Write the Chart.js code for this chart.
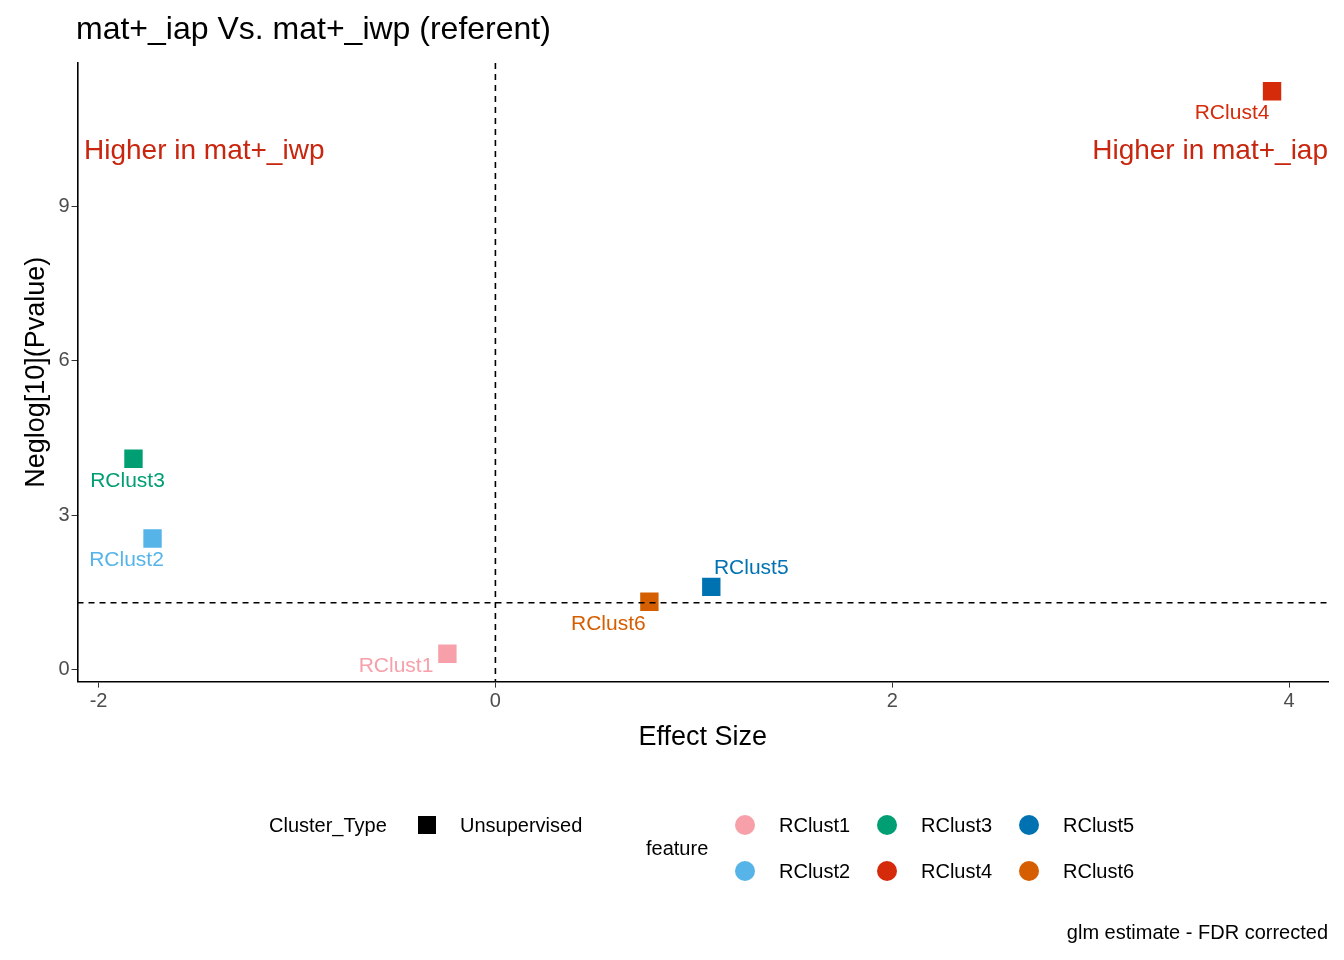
<!DOCTYPE html>
<html><head><meta charset="utf-8">
<script src="https://cdn.jsdelivr.net/npm/chart.js@4"></script>
<style>html,body{margin:0;padding:0;background:#fff}#wrap{width:1344px;height:960px}</style>
</head><body><div id="wrap"><canvas id="c"></canvas></div>
<script>
const features = ["RClust1","RClust2","RClust3","RClust4","RClust5","RClust6"];
const effectSize = [-0.242, -1.728, -1.824, 3.914, 1.088, 0.776];
const negLogP = [0.31, 2.55, 4.10, 11.24, 1.61, 1.32];
const colors = ["#F8A0AA","#56B4E9","#009E73","#D52B0B","#0072B2","#D55E00"];
const xTicks = [-2, 0, 2, 4];
const yTicks = [0, 3, 6, 9];
const pThreshold = 1.301;
const labelPos = [[-14,12,'right'],[-26,22,'center'],[-6,23,'center'],[-40,22,'center'],[40,-19,'center'],[-41,22,'center']];
const F = '"Liberation Sans", Arial, sans-serif';

const plugin = {
  id:'annot',
  afterDraw(chart){
    const ctx = chart.ctx, xs = chart.scales.x, ys = chart.scales.y, a = chart.chartArea;
    ctx.save();
    ctx.strokeStyle = '#000'; ctx.lineWidth = 1.6; ctx.setLineDash([6,5]);
    const x0 = xs.getPixelForValue(0), yh = ys.getPixelForValue(pThreshold);
    ctx.beginPath(); ctx.moveTo(x0, a.top); ctx.lineTo(x0, a.bottom); ctx.stroke();
    ctx.beginPath(); ctx.moveTo(a.left, yh); ctx.lineTo(a.right, yh); ctx.stroke();
    ctx.setLineDash([]);
    ctx.font = '21px '+F; ctx.textBaseline='middle';
    features.forEach((f,i)=>{
      const px = xs.getPixelForValue(effectSize[i]), py = ys.getPixelForValue(negLogP[i]);
      const [dx,dy,al] = labelPos[i];
      ctx.fillStyle = colors[i]; ctx.textAlign = al;
      ctx.fillText(f, px+dx, py+dy);
    });
    ctx.font = '28px '+F; ctx.fillStyle = '#C8260E';
    ctx.textAlign='left'; ctx.fillText('Higher in mat+_iwp', 84, 151);
    ctx.textAlign='right'; ctx.fillText('Higher in mat+_iap', 1328, 151);
    ctx.fillStyle='#000'; ctx.font='32px '+F; ctx.textAlign='left';
    ctx.fillText('mat+_iap Vs. mat+_iwp (referent)', 76, 30);
    ctx.font='20px '+F; ctx.fillStyle='#000';
    ctx.fillText('Cluster_Type', 269, 826);
    ctx.fillRect(418, 816, 18, 18);
    ctx.fillText('Unsupervised', 460, 826);
    ctx.fillText('feature', 646, 849);
    const lx=[745,887,1029], ly=[825,871];
    features.forEach((f,i)=>{
      const cx = lx[Math.floor(i/2)], cy = ly[i%2];
      ctx.fillStyle=colors[i]; ctx.beginPath(); ctx.arc(cx,cy,10,0,Math.PI*2); ctx.fill();
      ctx.fillStyle='#000'; ctx.fillText(f, cx+34, cy+1);
    });
    ctx.textAlign='right'; ctx.fillText('glm estimate - FDR corrected', 1328, 933);
    ctx.restore();
  }
};

new Chart(document.getElementById('c'), {
  type:'scatter',
  data:{datasets:[{
    data: effectSize.map((x,i)=>({x, y:negLogP[i]})),
    pointStyle:'rect', pointRadius:13, pointHoverRadius:13,
    backgroundColor: colors, borderColor: colors, borderWidth:0
  }]},
  options:{
    responsive:true, maintainAspectRatio:false, animation:false,
    layout:{padding:{top:63,right:16,bottom:202,left:16}},
    plugins:{legend:{display:false},tooltip:{enabled:false}},
    scales:{
      x:{type:'linear',min:-2.106,max:4.196,
        afterBuildTicks(s){s.ticks=xTicks.map(v=>({value:v}));},
        grid:{drawOnChartArea:false,color:'#333',tickLength:6},
        border:{color:'#000',width:1.6},
        ticks:{color:'#4d4d4d',font:{size:20,family:F},padding:2},
        title:{display:true,text:'Effect Size',color:'#000',font:{size:27,family:F},padding:{top:6}}},
      y:{type:'linear',min:-0.232,max:11.79,
        afterBuildTicks(s){s.ticks=yTicks.map(v=>({value:v}));},
        grid:{drawOnChartArea:false,color:'#333',tickLength:6},
        border:{color:'#000',width:1.6},
        ticks:{color:'#4d4d4d',font:{size:20,family:F},padding:2},
        title:{display:true,text:'Neglog[10](Pvalue)',color:'#000',font:{size:27,family:F},padding:{bottom:4}}}
    }
  },
  plugins:[plugin]
});
</script></body></html>
